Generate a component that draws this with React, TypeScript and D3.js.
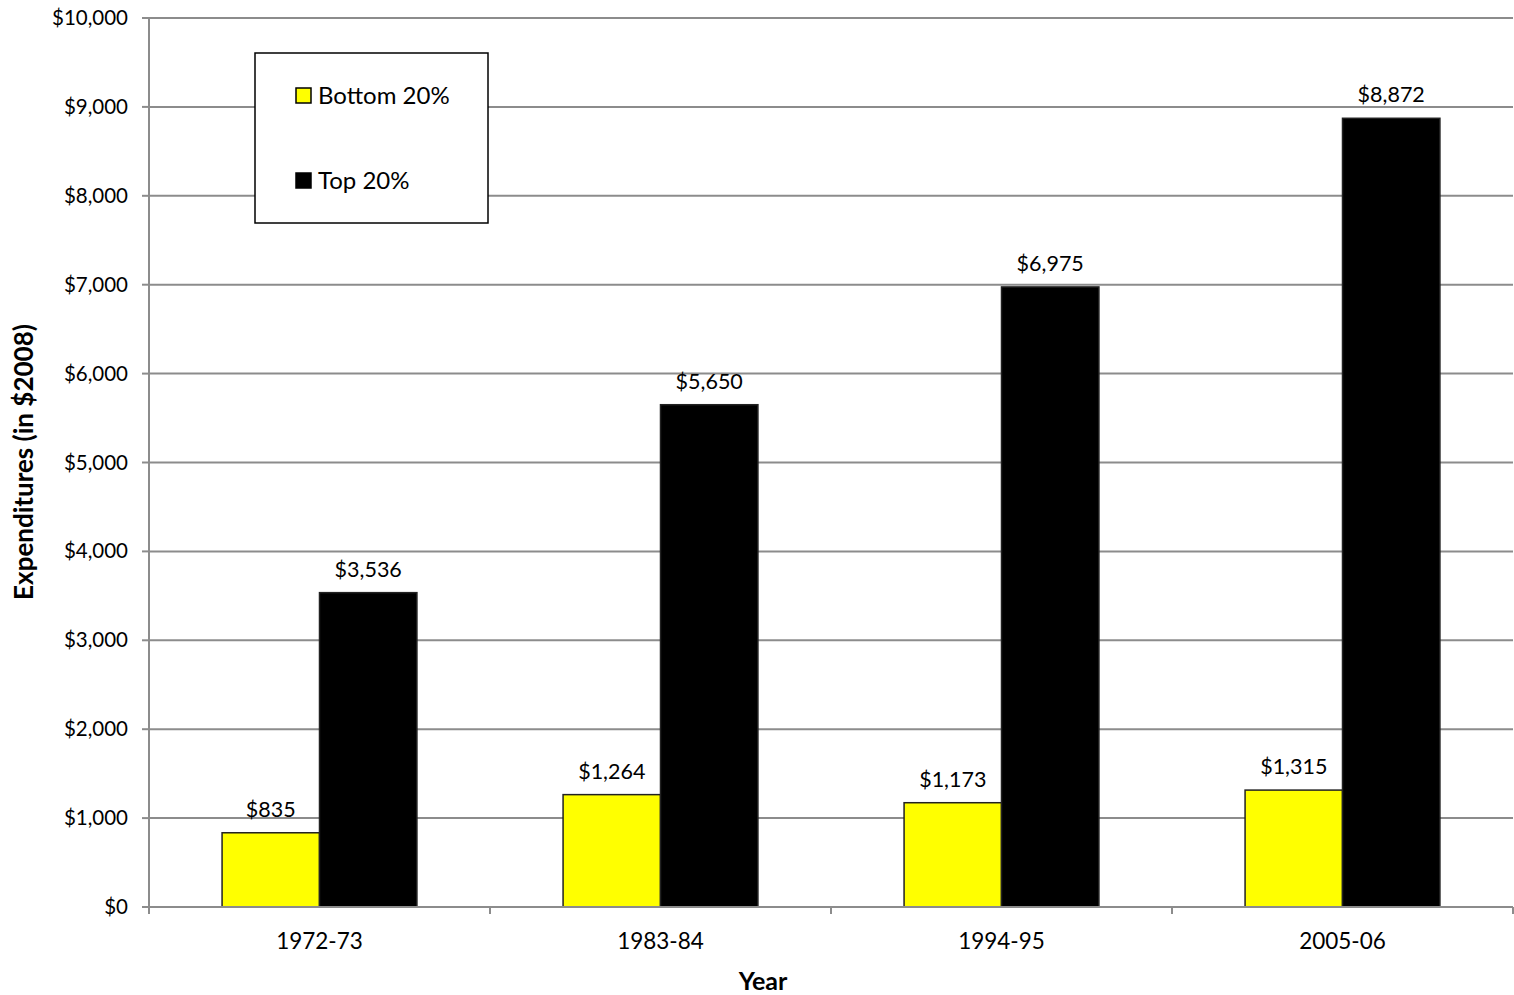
import React from "react";
import * as d3 from "d3";

const years = ["1972-73", "1983-84", "1994-95", "2005-06"];
const bottom20 = [835, 1264, 1173, 1315];
const top20 = [3536, 5650, 6975, 8872];
const seriesNames = ["Bottom 20%", "Top 20%"];
const seriesColors = ["#ffff00", "#000000"];
const yTicks = [0, 1000, 2000, 3000, 4000, 5000, 6000, 7000, 8000, 9000, 10000];

const W = 1514;
const H = 995;
const FONT = "Lato, 'Open Sans', sans-serif";

export default function App() {
  const left = 149, right = 1513, top = 18, bottomY = 907;
  const x = d3.scaleBand<string>().domain(years).range([left, right]).paddingInner(0).paddingOuter(0);
  const y = d3.scaleLinear().domain([0, 10000]).range([bottomY, top]);
  const fmt = (v: number) => "$" + d3.format(",")(v);
  const bw = x.bandwidth();
  const barW = bw / 3.5; // gap width 150%
  const series = [bottom20, top20];

  return (
    <svg width={W} height={H} style={{ position: "absolute", left: 0, top: 0, background: "#fff" }}>
      {/* gridlines */}
      {yTicks.map((t) => (
        <g key={t}>
          <line x1={left} x2={right} y1={y(t)} y2={y(t)} stroke="#8c8c8c" strokeWidth={2} />
          <line x1={left - 7} x2={left} y1={y(t)} y2={y(t)} stroke="#8c8c8c" strokeWidth={2} />
          <text x={128} y={y(t) + 7} textAnchor="end" fontFamily={FONT} fontSize={20.5} fill="#000">
            {fmt(t)}
          </text>
        </g>
      ))}
      {/* bars */}
      {years.map((yr, i) => {
        const cx = (x(yr) as number) + bw / 2;
        return (
          <g key={yr}>
            {series.map((vals, s) => {
              const bx = cx - barW + s * barW;
              return (
                <g key={s}>
                  <rect
                    x={bx}
                    y={y(vals[i])}
                    width={barW}
                    height={bottomY - y(vals[i])}
                    fill={seriesColors[s]}
                    stroke="#222"
                    strokeWidth={1.5}
                  />
                  <text
                    x={bx + barW / 2}
                    y={y(vals[i]) - 16}
                    textAnchor="middle"
                    fontFamily={FONT}
                    fontSize={21.5}
                    fill="#000"
                  >
                    {fmt(vals[i])}
                  </text>
                </g>
              );
            })}
            <text x={cx} y={949} textAnchor="middle" fontFamily={FONT} fontSize={22.5} fill="#000">
              {yr}
            </text>
          </g>
        );
      })}
      {/* axes */}
      <line x1={left} x2={left} y1={top} y2={bottomY + 7} stroke="#8c8c8c" strokeWidth={2} />
      <line x1={left} x2={right} y1={bottomY} y2={bottomY} stroke="#8c8c8c" strokeWidth={2} />
      {[...years.map((yr) => x(yr) as number), right].map((px, k) => (
        <line key={k} x1={px} x2={px} y1={bottomY} y2={bottomY + 7} stroke="#8c8c8c" strokeWidth={2} />
      ))}
      {/* axis titles */}
      <text x={763} y={990} textAnchor="middle" fontFamily={FONT} fontSize={25} fontWeight="bold" fill="#000">
        Year
      </text>
      <text
        transform="translate(33,462) rotate(-90)"
        textAnchor="middle"
        fontFamily={FONT}
        fontSize={26}
        fontWeight="bold"
        fill="#000"
      >
        Expenditures (in $2008)
      </text>
      {/* legend */}
      <rect x={255} y={53} width={233} height={170} fill="#fff" stroke="#000" strokeWidth={1.5} />
      {seriesNames.map((name, s) => (
        <g key={name}>
          <rect x={296} y={88 + s * 85} width={15} height={15} fill={seriesColors[s]} stroke="#000" strokeWidth={1.5} />
          <text x={318} y={104 + s * 85} fontFamily={FONT} fontSize={24} fill="#000">
            {name}
          </text>
        </g>
      ))}
    </svg>
  );
}
